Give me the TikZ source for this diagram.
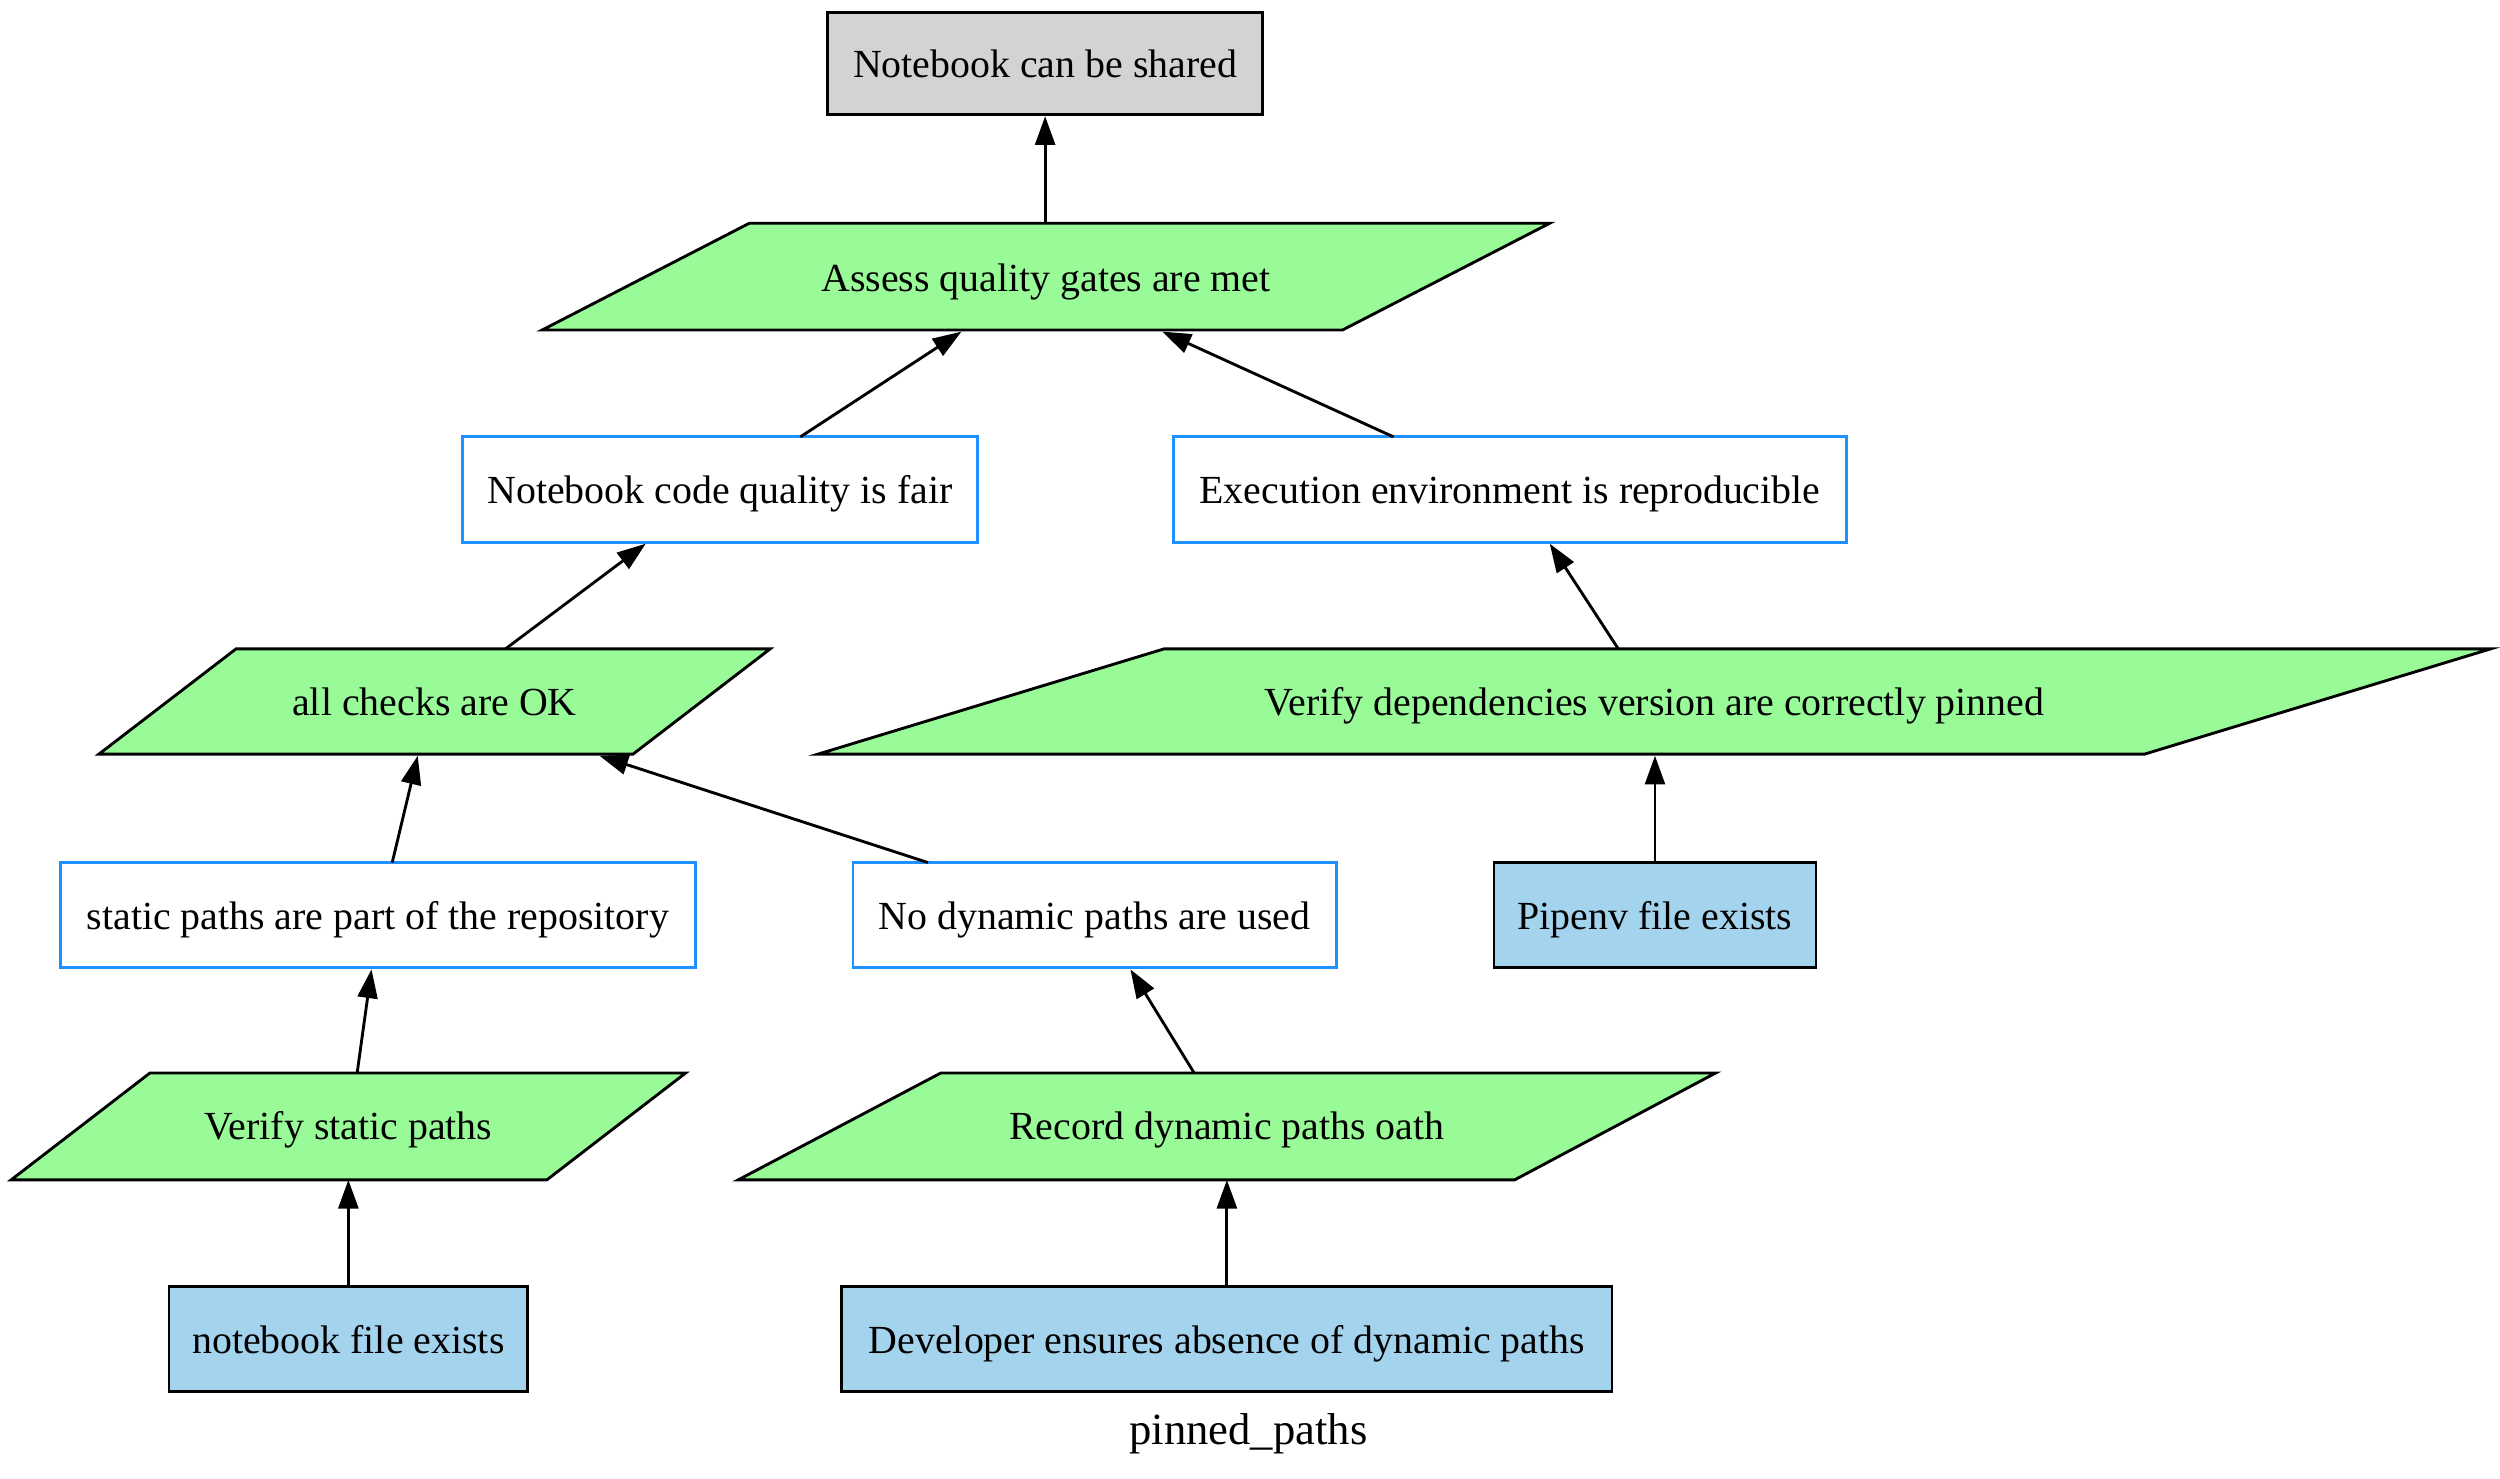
\documentclass[tikz,border=0pt]{standalone}
\usepackage{fontspec}
\setmainfont{Liberation Serif}
\usetikzlibrary{arrows.meta}
\definecolor{gvgray}{HTML}{D3D3D3}
\definecolor{gvgreen}{HTML}{98FB98}
\definecolor{gvblue}{HTML}{A4D3EE}
\definecolor{gvborder}{HTML}{1E90FF}
\begin{document}
\begin{tikzpicture}[x=1pt,y=-1pt,
  every node/.style={font=\fontsize{25pt}{28pt}\selectfont, inner sep=0pt, text height=17.5pt, text depth=0pt},
  box/.style={draw=black, line width=1.8pt, rectangle},
  goalbox/.style={draw=gvborder, line width=1.8pt, rectangle, fill=white},
  para/.style={draw=black, line width=1.8pt, fill=gvgreen, line join=miter},
  edge/.style={draw=black, line width=1.8pt, -{Triangle[length=18pt,width=12.5pt]}}
]
\useasboundingbox (0,0) rectangle (1568,927);

% Rectangular nodes
\node[box, fill=gvgray, minimum width=273pt, minimum height=64pt] (shared) at (655.5,40) {Notebook can be shared};
\node[goalbox, minimum width=323pt, minimum height=66pt] (fair) at (451.5,307) {Notebook code quality is fair};
\node[goalbox, minimum width=422pt, minimum height=66pt] (env) at (947,307) {Execution environment is reproducible};
\node[goalbox, minimum width=398pt, minimum height=66pt] (static) at (237,574) {static paths are part of the repository};
\node[goalbox, minimum width=303pt, minimum height=66pt] (nodyn) at (686.5,574) {No dynamic paths are used};
\node[box, fill=gvblue, minimum width=202pt, minimum height=66pt] (pipenv) at (1038,574) {Pipenv file exists};
\node[box, fill=gvblue, minimum width=225pt, minimum height=66pt] (nbfile) at (218.5,840) {notebook file exists};
\node[box, fill=gvblue, minimum width=483pt, minimum height=66pt] (dev) at (769.5,840) {Developer ensures absence of dynamic paths};

% Parallelograms
\path[para] (470,140) -- (972,140) -- (842,207) -- (340,207) -- cycle;
\node (assess) at (656,174) {Assess quality gates are met};
\path[para] (148,407) -- (483,407) -- (397,473) -- (62,473) -- cycle;
\node (checks) at (272.5,440) {all checks are OK};
\path[para] (730,407) -- (1562,407) -- (1345,473) -- (513,473) -- cycle;
\node (verdeps) at (1037.5,440) {Verify dependencies version are correctly pinned};
\path[para] (94,673) -- (430,673) -- (343,740) -- (7,740) -- cycle;
\node (verstatic) at (218.5,706) {Verify static paths};
\path[para] (590,673) -- (1076,673) -- (950,740) -- (463,740) -- cycle;
\node (record) at (769.5,706) {Record dynamic paths oath};

% Edge end coordinates on the parallelograms
\coordinate (assessT) at (655.5,140);
\coordinate (assessBL) at (603,208);
\coordinate (assessBR) at (729,208);
\coordinate (checksT) at (317,407);
\coordinate (checksB) at (262,474);
\coordinate (checksBR) at (376,474);
\coordinate (verdepsT) at (1015,407);
\coordinate (verdepsB) at (1038,474);
\coordinate (verstaticT) at (224,673);
\coordinate (verstaticB) at (218.5,740);
\coordinate (recordT) at (749,673);
\coordinate (recordB) at (769.5,740);
\coordinate (fairT) at (502,274);
\coordinate (fairB) at (405,341);
\coordinate (envT) at (874,274);
\coordinate (envB) at (972,341);
\coordinate (staticT) at (246,541);
\coordinate (staticB) at (233,608);
\coordinate (nodynT) at (582,541);
\coordinate (nodynB) at (709,608);

% Connectors
\draw[edge] (assessT) -- (shared.south);
\draw[edge] (fairT) -- (assessBL);
\draw[edge] (envT) -- (assessBR);
\draw[edge] (checksT) -- (fairB);
\draw[edge] (verdepsT) -- (envB);
\draw[edge] (staticT) -- (checksB);
\draw[edge] (nodynT) -- (checksBR);
\draw[edge] (pipenv.north) -- (verdepsB);
\draw[edge] (verstaticT) -- (staticB);
\draw[edge] (recordT) -- (nodynB);
\draw[edge] (nbfile.north) -- (verstaticB);
\draw[edge] (dev.north) -- (recordB);

\node[font=\fontsize{28pt}{32pt}\selectfont, anchor=base, text height=, text depth=] (label) at (783,906) {pinned\_paths};
\end{tikzpicture}
\end{document}
